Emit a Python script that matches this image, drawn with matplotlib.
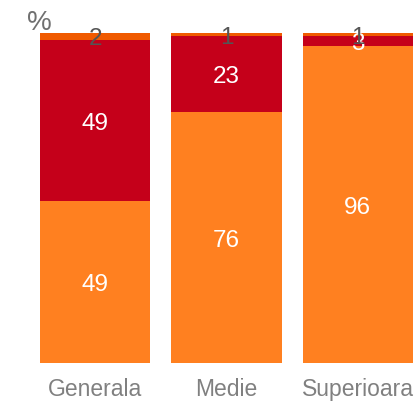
import matplotlib
matplotlib.use("Agg")
import matplotlib.pyplot as plt

categories = ["Generala", "Medie", "Superioara"]
bottom_vals = [49, 76, 96]
middle_vals = [49, 23, 3]
top_vals = [2, 1, 1]

c_bottom = "#FF8020"
c_middle = "#C5001A"
c_top = "#F05A00"

plt.rcParams['font.family'] = ['Liberation Sans', 'DejaVu Sans']

fig = plt.figure(figsize=(4.16, 4.03), dpi=100)
ax = fig.add_axes([40/416, 40/403, 373/416, 330/403])

x = list(range(len(categories)))
w = 0.84
ax.bar(x, bottom_vals, width=w, color=c_bottom)
mid_base = bottom_vals
ax.bar(x, middle_vals, width=w, bottom=mid_base, color=c_middle)
top_base = [a + b for a, b in zip(bottom_vals, middle_vals)]
ax.bar(x, top_vals, width=w, bottom=top_base, color=c_top)

def label(xi, yi, s, color):
    ax.annotate(s, (xi, yi), xytext=(0, -2.2), textcoords='offset points',
                ha='center', va='center', color=color, fontsize=17.5)

for i in x:
    label(i, bottom_vals[i] / 2, str(bottom_vals[i]), 'white')
    label(i, mid_base[i] + middle_vals[i] / 2, str(middle_vals[i]), 'white')
    label(i, top_base[i] + top_vals[i] / 2, str(top_vals[i]), '#555555')

ax.set_xlim(-w / 2, 2 + w / 2)
ax.set_ylim(0, 100)
ax.set_xticks(x)
ax.set_xticklabels(categories, fontsize=16.5, color='#808080')
ax.tick_params(axis='x', length=0, pad=10.5)
ax.set_yticks([])
for s in ax.spines.values():
    s.set_visible(False)

fig.text(27/416, 1 - 23/403, "%", fontsize=20, color='#707070', ha='left', va='center')

fig.savefig("out.png", dpi=100)
